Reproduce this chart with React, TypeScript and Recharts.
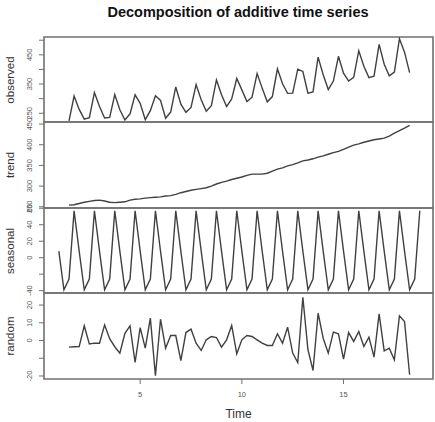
import React from 'react';
import { LineChart, Line, XAxis, YAxis, ReferenceArea } from 'recharts';

// quarterly time index (frequency 4)
const times = [
  1, 1.25, 1.5, 1.75, 2, 2.25, 2.5, 2.75, 3, 3.25, 3.5, 3.75, 4, 4.25, 4.5, 4.75,
  5, 5.25, 5.5, 5.75, 6, 6.25, 6.5, 6.75, 7, 7.25, 7.5, 7.75, 8, 8.25, 8.5, 8.75,
  9, 9.25, 9.5, 9.75, 10, 10.25, 10.5, 10.75, 11, 11.25, 11.5, 11.75, 12, 12.25, 12.5, 12.75,
  13, 13.25, 13.5, 13.75, 14, 14.25, 14.5, 14.75, 15, 15.25, 15.5, 15.75, 16, 16.25, 16.5, 16.75,
  17, 17.25, 17.5, 17.75, 18, 18.25, 18.5, 18.75,
];

const seasonal = [
  8, -39, -26, 57, 8, -39, -26, 57, 8, -39, -26, 57, 8, -39, -26, 57,
  8, -39, -26, 57, 8, -39, -26, 57, 8, -39, -26, 57, 8, -39, -26, 57,
  8, -39, -26, 57, 8, -39, -26, 57, 8, -39, -26, 57, 8, -39, -26, 57,
  8, -39, -26, 57, 8, -39, -26, 57, 8, -39, -26, 57, 8, -39, -26, 57,
  8, -39, -26, 57, 8, -39, -26, 57,
];

// these start at 1.5 and stop at 18.25
const observed = [
  224, 309, 263, 230, 235, 321, 273, 234, 236, 314, 262, 227, 248, 313,
  284, 228, 259, 310, 294, 233, 254, 340, 281, 253, 270, 348, 296, 257, 276, 364,
  313, 273, 299, 369, 330, 290, 305, 386, 336, 289, 307, 402, 351, 318, 319, 401,
  393, 319, 323, 442, 382, 331, 360, 445, 387, 360, 373, 464, 411, 372, 377, 486,
  418, 378, 391, 505, 459, 389,
];

const trend = [
  254, 255, 258, 261, 263, 265, 266, 264, 261, 260, 261, 262, 266, 268,
  269, 271, 272, 273, 274, 276, 277, 280, 284, 287, 290, 292, 294, 296, 300, 305,
  309, 312, 316, 319, 322, 326, 329, 329, 329, 331, 336, 341, 344, 349, 352, 356,
  361, 363, 366, 370, 373, 377, 381, 384, 389, 394, 399, 402, 406, 409, 412, 414,
  416, 421, 428, 434, 440, 447,
];

const random = [
  -3.7, -3.5, -3.4, 8.3, -1.9, -1.5, -1.5, 8.8, 1.0, -3.5, -7.1, 4.1, 8.3, -12.4,
  7.3, -4.3, 12.6, -19.9, 12.0, -4.3, 2.8, 2.8, -11.3, 4.5, 6.4, -1.5, -5.6, 0.4, 2.3, 1.7,
  -3.7, 0.4, 8.5, -7.5, 0.4, 2.8, 2.3, 0.4, -1.5, -2.8, -2.8, 3.8, -1.5, 7.5, -7.1, -12.4,
  24.4, -5.2, -16.9, 15.4, 1.3, -7.1, 4.7, 3.8, -10.5, 4.5, -0.5, 5.1, -3.4, 1.9, -9.4, 15.0,
  -5.8, -4.3, -10.9, 13.9, 10.7, -19.3,
];

const xTicks = [5, 10, 15];

const rows = times.map((time, i) => ({
  time,
  seasonal: seasonal[i],
  observed: i >= 2 && i - 2 < observed.length ? observed[i - 2] : null,
  trend: i >= 2 && i - 2 < trend.length ? trend[i - 2] : null,
  random: i >= 2 && i - 2 < random.length ? random[i - 2] : null,
}));

const W = 435;
const H = 422;
const X_DOMAIN: [number, number] = [0.27, 19.4];
const FONT = '"Liberation Sans", Arial, sans-serif';
const BOX = '#707070';
const INK = '#404040';

const panels = [
  { key: 'observed', top: 37, bottom: 122, domain: [220, 511], ticks: [250, 300, 350, 400, 450, 500], labels: [250, 350, 450] },
  { key: 'trend', top: 122, bottom: 208, domain: [247, 455], ticks: [250, 300, 350, 400, 450], labels: [250, 300, 350, 400, 450] },
  { key: 'seasonal', top: 208, bottom: 293, domain: [-42.8, 60.3], ticks: [-40, -20, 0, 20, 40, 60], labels: [-40, 0, 20, 40, 60] },
  { key: 'random', top: 293, bottom: 379, domain: [-21.7, 26.8], ticks: [-20, -10, 0, 10, 20], labels: [-20, 0, 10, 20] },
];

const makeYTick = (shown: number[]) => (props: any) => {
  const { x, y, payload } = props;
  if (!shown.includes(payload.value)) return <g />;
  const cx = x - 7;
  return (
    <text
      x={cx}
      y={y}
      transform={`rotate(-90, ${cx}, ${y})`}
      textAnchor="middle"
      dominantBaseline="central"
      fontSize={7.5}
      fontFamily={FONT}
      fill="#555"
    >
      {payload.value}
    </text>
  );
};

const X_AXIS_H = 30;

export default function App() {
  return (
    <div style={{ position: 'absolute', left: 0, top: 0, width: W, height: H, background: '#fff', fontFamily: FONT }}>
      <div
        style={{
          position: 'absolute', left: 238, top: 12, transform: 'translate(-50%, -50%)',
          fontSize: 14.5, fontWeight: 'bold', whiteSpace: 'nowrap', color: '#111',
        }}
      >
        Decomposition of additive time series
      </div>

      {panels.map((p, idx) => {
        const last = idx === panels.length - 1;
        return (
          <div key={p.key} style={{ position: 'absolute', left: 0, top: 0 }}>
            <LineChart
              width={W}
              height={H}
              data={rows}
              margin={{ top: p.top, bottom: last ? H - p.bottom - X_AXIS_H : H - p.bottom, left: 0, right: 2 }}
            >
              <XAxis
                dataKey="time"
                type="number"
                domain={X_DOMAIN}
                ticks={xTicks}
                hide={!last}
                height={X_AXIS_H}
                axisLine={false}
                tickSize={5}
                tickMargin={8}
                tick={{ fontSize: 7.5, fill: '#555', fontFamily: FONT }}
                tickLine={{ stroke: BOX }}
              />
              <YAxis
                type="number"
                domain={p.domain}
                ticks={p.ticks}
                width={44}
                allowDataOverflow
                axisLine={false}
                tickSize={5}
                tickMargin={2}
                tickLine={{ stroke: BOX }}
                tick={makeYTick(p.labels)}
                interval={0}
              />
              <ReferenceArea
                x1={X_DOMAIN[0]}
                x2={X_DOMAIN[1]}
                y1={p.domain[0]}
                y2={p.domain[1]}
                fill="none"
                stroke={BOX}
                strokeWidth={1.6}
                ifOverflow="visible"
              />
              <Line
                dataKey={p.key}
                type="linear"
                stroke={INK}
                strokeWidth={1.4}
                dot={false}
                isAnimationActive={false}
              />
            </LineChart>
            <div
              style={{
                position: 'absolute', left: 10, top: (p.top + p.bottom) / 2,
                transform: 'translate(-50%, -50%) rotate(-90deg)',
                fontSize: 11.5, color: '#333', whiteSpace: 'nowrap',
              }}
            >
              {p.key}
            </div>
          </div>
        );
      })}

      <div
        style={{
          position: 'absolute', left: 238.5, top: 414, transform: 'translate(-50%, -50%)',
          fontSize: 12, color: '#333', whiteSpace: 'nowrap',
        }}
      >
        Time
      </div>
    </div>
  );
}
